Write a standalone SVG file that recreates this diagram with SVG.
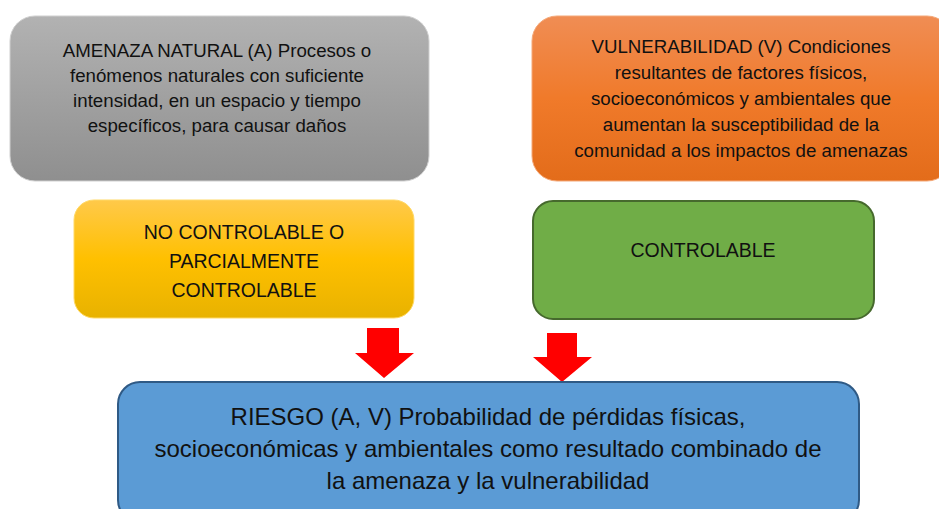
<svg xmlns="http://www.w3.org/2000/svg" width="939" height="509" viewBox="0 0 939 509">
<defs>
<linearGradient id="gGray" x1="0" y1="0" x2="0" y2="1"><stop offset="0" stop-color="#b2b2b2"/><stop offset="1" stop-color="#8f8f8f"/></linearGradient>
<linearGradient id="gOrange" x1="0" y1="0" x2="0" y2="1"><stop offset="0" stop-color="#f08d54"/><stop offset="0.5" stop-color="#f07a2a"/><stop offset="1" stop-color="#e36c1a"/></linearGradient>
<linearGradient id="gYellow" x1="0" y1="0" x2="0" y2="1"><stop offset="0" stop-color="#ffc94a"/><stop offset="0.5" stop-color="#ffc000"/><stop offset="1" stop-color="#e8b200"/></linearGradient>
</defs>
<style>
text{font-family:"Liberation Sans",Arial,sans-serif;fill:#111;text-anchor:middle}
.t17{font-size:18.7px}
.t19{font-size:19.5px}
.t22{font-size:24px}
</style>
<g id="connectors">
<polygon points="367,328 399,328 399,353 414,353 384,378 355,353 367,353" fill="#ff0000"/>
<polygon points="547,333 577,333 577,357 592,357 562,382 533,357 547,357" fill="#ff0000"/>
</g>
<g id="amenaza">
<rect x="10" y="16" width="419" height="165" rx="25" fill="url(#gGray)" stroke="#cfcfcf" stroke-width="1"/>
<text class="t17"><tspan x="217" y="57">AMENAZA NATURAL (A) Procesos o</tspan><tspan x="217" y="82">fenómenos naturales con suficiente</tspan><tspan x="217" y="107">intensidad, en un espacio y tiempo</tspan><tspan x="217" y="132">específicos, para causar daños</tspan></text>
</g>
<g id="vulnerabilidad">
<rect x="532" y="16" width="420" height="165" rx="25" fill="url(#gOrange)" stroke="#f4a878" stroke-width="1"/>
<text class="t17"><tspan x="741" y="53">VULNERABILIDAD (V) Condiciones</tspan><tspan x="741" y="79">resultantes de factores físicos,</tspan><tspan x="741" y="105">socioeconómicos y ambientales que</tspan><tspan x="741" y="131">aumentan la susceptibilidad de la</tspan><tspan x="741" y="157">comunidad a los impactos de amenazas</tspan></text>
</g>
<g id="no-controlable">
<rect x="74" y="200" width="340" height="118" rx="20" fill="url(#gYellow)" stroke="#ffd966" stroke-width="1"/>
<text class="t19"><tspan x="244" y="239">NO CONTROLABLE O</tspan><tspan x="244" y="268">PARCIALMENTE</tspan><tspan x="244" y="297">CONTROLABLE</tspan></text>
</g>
<g id="controlable">
<rect x="533" y="201" width="341" height="118" rx="20" fill="#70ad47" stroke="#46692d" stroke-width="2"/>
<text class="t19"><tspan x="703" y="257">CONTROLABLE</tspan></text>
</g>
<g id="riesgo">
<rect x="118" y="382" width="741" height="140" rx="22" fill="#5b9bd5" stroke="#2f5a85" stroke-width="2"/>
<text class="t22"><tspan x="488" y="425">RIESGO (A, V) Probabilidad de pérdidas físicas,</tspan><tspan x="488" y="457">socioeconómicas y ambientales como resultado combinado de</tspan><tspan x="488" y="489">la amenaza y la vulnerabilidad</tspan></text>
</g>
</svg>
